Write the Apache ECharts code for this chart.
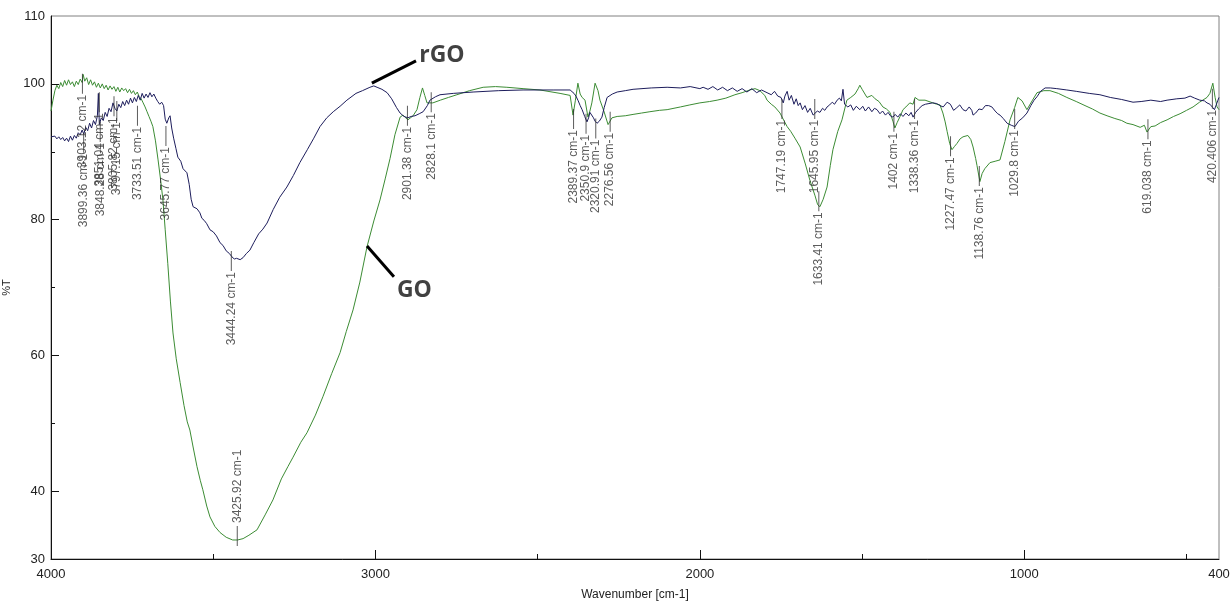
<!DOCTYPE html>
<html><head><meta charset="utf-8">
<script src="https://cdn.jsdelivr.net/npm/echarts@6/dist/echarts.min.js"></script>
<style>html,body{margin:0;padding:0;background:#fff}#c{width:1231px;height:602px}</style>
</head><body><div id="c"></div>
<script>
// ---- data (wavenumber cm-1, %T) ----
const goWn = [4000,3994,3988,3982,3976,3970,3964,3958,3952,3946,3940,3934,3928,3922,3916,3910,3904,3901,3896,3890,3884,3878,3872,3866,3860,3854,3848,3842,3836,3830,3824,3818,3812,3806,3800,3794,3788,3782,3776,3770,3764,3758,3752,3746,3740,3734,3728,3722,3716,3710,3704,3698,3692,3686,3678,3670,3662,3655,3648,3640,3632,3624,3614,3602,3590,3580,3572,3562,3550,3540,3532,3520,3510,3495,3479,3460,3440,3425,3408,3390,3365,3340,3316,3290,3270,3254,3230,3211,3185,3162,3135,3109,3090,3069,3048,3026,3005,2986,2970,2955,2940,2924,2915,2909,2900,2892,2884,2872,2863,2855,2848,2841,2823,2800,2775,2749,2710,2668,2630,2595,2545,2493,2431,2400,2391,2384,2376,2369,2363,2354,2345,2339,2333,2323,2314,2308,2296,2283,2271,2255,2230,2206,2180,2154,2125,2101,2060,2031,2000,1970,1947,1920,1892,1870,1846,1830,1815,1800,1793,1780,1769,1753,1740,1731,1720,1707,1691,1675,1661,1645,1637,1630,1620,1608,1598,1590,1575,1562,1547,1535,1522,1512,1507,1500,1485,1470,1460,1448,1436,1425,1414,1405,1399,1392,1383,1374,1365,1353,1343,1337,1325,1306,1282,1270,1260,1251,1244,1238,1230,1223,1215,1208,1198,1189,1174,1165,1158,1150,1146,1137,1130,1122,1106,1090,1075,1060,1044,1030,1020,1007,992,976,961,940,921,895,869,840,813,790,767,745,721,700,684,665,643,630,622,610,597,580,560,540,520,500,480,460,437,428,419,412,406,400];
const goT = [96.0,97.6,99.0,99.8,99.3,100.2,99.6,100.5,99.8,100.6,99.9,100.3,99.6,100.4,99.9,100.7,100.2,101.4,100.4,100.9,99.9,100.6,99.8,100.3,99.5,100.1,99.4,100.0,99.3,99.8,99.1,99.7,99.2,99.6,98.9,99.5,98.8,99.4,99.0,99.3,98.7,99.2,98.6,99.0,98.4,98.8,98.1,97.8,97.2,96.6,95.9,95.2,94.5,93.7,91.6,88.8,85.8,82.9,78.5,73.5,68.0,63.3,59.5,56.0,52.6,50.2,49.0,46.5,43.6,41.6,40.2,37.8,36.2,34.8,33.9,33.2,32.8,32.8,33.0,33.5,34.3,36.5,38.7,41.8,43.6,45.0,47.2,48.6,51.2,53.9,57.3,60.4,63.5,66.7,70.8,76.0,79.8,82.9,86.0,89.0,92.5,95.1,95.4,95.1,94.7,95.0,95.3,96.2,98.0,99.4,98.3,97.2,97.2,97.6,98.0,98.4,99.0,99.5,99.6,99.5,99.3,99.1,98.6,98.3,95.4,97.5,100.1,98.5,98.0,97.6,95.1,96.0,97.2,100.1,99.0,97.6,96.0,94.0,95.0,95.2,95.3,95.5,95.7,95.9,96.1,96.2,96.6,96.9,97.2,97.4,97.6,97.9,98.4,98.7,99.1,99.3,99.0,98.3,97.6,97.0,96.6,95.7,94.5,93.7,93.0,92.0,90.7,88.2,85.8,83.5,82.2,81.9,83.0,84.8,88.0,90.3,93.0,94.7,97.6,98.0,98.5,99.3,99.8,99.2,98.0,98.3,97.8,97.4,96.6,96.3,95.8,94.5,93.5,94.3,95.2,96.2,96.6,97.2,97.0,98.0,97.6,97.6,97.2,97.0,96.9,95.7,94.4,93.0,91.2,90.3,90.8,91.2,91.9,92.2,92.4,91.8,90.7,89.0,88.0,85.6,86.8,87.5,88.4,88.6,88.8,91.5,94.7,96.5,98.0,97.5,96.2,97.5,98.7,99.0,99.0,98.6,98.0,97.4,96.8,96.3,95.7,95.3,94.9,94.6,94.2,94.0,93.6,93.9,92.9,93.7,93.8,94.3,94.7,95.2,95.6,96.1,96.6,97.3,98.0,98.6,100.1,98.0,96.6,96.2];

const rgoWn = [4000,3994,3988,3982,3976,3970,3964,3958,3952,3946,3940,3934,3928,3922,3916,3910,3904,3899,3893,3887,3881,3875,3869,3863,3857,3854,3851,3845,3839,3833,3827,3821,3815,3809,3803,3797,3791,3785,3779,3773,3767,3761,3755,3749,3743,3737,3731,3725,3719,3713,3707,3701,3695,3689,3683,3677,3671,3665,3659,3653,3648,3643,3637,3633,3628,3622,3615,3609,3600,3593,3587,3581,3574,3568,3562,3556,3550,3541,3535,3528,3520,3510,3500,3490,3479,3470,3460,3450,3442,3435,3428,3417,3408,3398,3387,3375,3360,3347,3334,3315,3295,3273,3253,3233,3210,3190,3171,3150,3130,3109,3088,3060,3040,3017,3005,2995,2980,2964,2950,2935,2924,2912,2900,2890,2878,2865,2853,2840,2832,2815,2801,2760,2699,2620,2545,2450,2400,2394,2388,2382,2375,2369,2363,2355,2348,2343,2339,2333,2328,2323,2317,2310,2302,2295,2286,2270,2255,2230,2206,2150,2101,2060,2030,2000,1990,1975,1960,1945,1930,1915,1900,1885,1870,1855,1840,1825,1810,1793,1780,1770,1760,1750,1743,1738,1731,1725,1718,1710,1703,1697,1691,1684,1676,1668,1660,1651,1645,1638,1630,1622,1615,1608,1600,1592,1585,1577,1570,1564,1559,1554,1544,1535,1527,1518,1507,1498,1490,1480,1470,1462,1454,1445,1437,1428,1420,1413,1405,1398,1390,1382,1374,1365,1356,1349,1343,1335,1326,1315,1305,1294,1282,1270,1260,1250,1238,1228,1218,1208,1199,1189,1180,1170,1162,1158,1150,1140,1130,1120,1110,1100,1090,1082,1075,1065,1053,1040,1029,1018,1005,992,980,970,961,950,936,920,900,869,840,800,767,735,700,665,640,610,580,560,530,505,489,475,459,445,437,428,419,414,409,404,400];
const rgoT = [92.2,92.0,92.3,91.9,92.2,91.8,92.1,91.6,92.0,91.5,92.3,91.7,92.4,92.0,92.8,92.5,93.2,92.6,93.6,93.1,94.2,93.5,94.6,94.0,95.3,98.6,94.0,95.0,94.6,95.8,95.2,96.4,95.9,97.2,96.4,96.0,97.0,96.5,97.4,96.8,97.6,97.0,97.9,97.2,98.0,97.4,98.3,97.6,98.6,97.9,98.5,98.0,98.7,98.1,98.5,97.9,97.4,97.0,97.3,96.8,94.8,94.2,95.0,95.3,93.5,92.0,90.5,89.2,88.6,87.5,87.3,86.9,85.2,83.0,81.9,81.8,81.6,81.0,80.2,79.9,79.4,78.5,78.2,77.6,76.6,76.2,75.4,75.0,74.5,74.2,74.3,74.1,74.4,75.0,75.5,76.6,77.9,78.6,79.5,81.5,83.3,84.8,86.5,88.4,90.3,92.0,93.7,95.0,95.9,96.7,97.6,98.6,99.0,99.5,99.7,99.5,99.2,98.7,97.8,96.5,95.7,95.2,95.0,95.2,95.3,95.6,95.9,96.8,97.6,98.1,98.4,98.6,98.8,99.0,99.1,99.1,99.1,99.0,98.6,98.2,97.5,96.8,96.2,95.2,94.4,95.0,95.8,95.7,95.0,94.5,94.2,94.5,95.1,96.5,98.0,98.5,98.8,99.0,99.2,99.4,99.5,99.4,99.6,99.3,99.5,99.2,99.6,99.1,99.5,99.0,99.4,98.9,99.3,98.8,99.3,98.7,99.1,98.7,98.4,98.9,98.2,98.0,97.2,98.2,98.9,97.6,98.3,97.0,97.8,96.8,97.2,96.2,96.8,95.8,96.4,95.4,95.2,96.0,95.8,96.4,96.1,96.6,96.9,97.3,97.0,97.6,97.9,97.5,99.2,97.0,96.6,96.9,96.1,96.7,96.2,96.7,96.0,96.6,95.9,96.4,96.2,95.6,96.0,95.4,95.8,95.3,95.1,95.5,95.1,95.6,95.2,95.7,95.3,95.8,95.1,95.8,96.3,96.8,97.0,97.1,97.2,97.1,96.8,96.6,97.3,97.0,96.1,96.5,96.9,96.2,96.0,96.6,96.1,95.4,95.7,96.3,96.2,96.8,96.8,96.6,96.0,95.6,95.4,94.9,94.2,93.9,93.7,94.5,95.0,95.7,96.8,97.6,98.1,98.9,99.4,99.4,99.3,99.1,98.9,98.6,98.4,98.0,97.7,97.3,97.4,97.6,97.4,97.6,97.8,97.9,98.2,97.9,97.6,97.5,97.2,97.0,96.5,96.2,96.4,97.5,98.0];

// peak labels drawn below their marker
const peakWn = [3903.12,3899.36,3851.04,3848.28,3805.82,3797.15,3733.51,3645.77,3444.24,2901.38,2828.1,2389.37,2350.9,2320.91,2276.56,1747.19,1645.95,1633.41,1402,1338.36,1227.47,1138.76,1029.8,619.038,420.406];
const peakT  = [100.6,91.9,97.9,93.5,97.3,96.6,95.9,92.9,74.5,95.9,97.9,95.4,94.7,94.0,95.0,96.9,96.9,83.3,95.0,96.9,91.4,87.0,95.4,93.9,98.4];
const peakText = ['3903.12 cm-1','3899.36 cm-1','3851.04 cm-1','3848.28 cm-1','3805.82 cm-1','3797.15 cm-1','3733.51 cm-1','3645.77 cm-1','3444.24 cm-1','2901.38 cm-1','2828.1 cm-1','2389.37 cm-1','2350.9 cm-1','2320.91 cm-1','2276.56 cm-1','1747.19 cm-1','1645.95 cm-1','1633.41 cm-1','1402 cm-1','1338.36 cm-1','1227.47 cm-1','1138.76 cm-1','1029.8 cm-1','619.038 cm-1','420.406 cm-1'];
// peak label drawn above its marker
const upPeakWn = [3425.92];
const upPeakT = [32.8];
const upPeakText = ['3425.92 cm-1'];

// axis ticks / labels
const xLabelVals = [4000,3000,2000,1000,400];
const xMajorTicks = [3000,2000,1000];
const xMinorTicks = [3500,2500,1500,500];
const yLabelVals = [30,40,60,80,100,110];
const yMajorTicks = [40,60,80,100];
const yMinorTicks = [50,70,90];

// curve annotations
const annLineRGO = [[3011,100.1],[2875,103.4]];
const annLineGO = [[3026,76.1],[2943,71.6]];
const annText = [['rGO',2795,104.2],['GO',2880,69.6]];

const zip = (a,b)=>a.map((v,i)=>[v,b[i]]);
const chart = echarts.init(document.getElementById('c'), null, {renderer:'canvas'});
const FONT = 'Liberation Sans, Arial, sans-serif';
const GREEN = '#3c8c34', NAVY = '#1d1d5c';

const baseX = {type:'value', min:400, max:4000, inverse:true, position:'bottom', splitLine:{show:false}};
const baseY = {type:'value', min:30, max:110, position:'left', splitLine:{show:false}};

chart.setOption({
  animation:false,
  backgroundColor:'#fff',
  grid:{left:51, right:12, top:16, bottom:43, show:true, borderColor:'#808080', borderWidth:1, containLabel:false, outerBoundsMode:'none'},
  xAxis:[
    Object.assign({}, baseX, {
      name:'Wavenumber [cm-1]', nameLocation:'middle', nameGap:30,
      nameTextStyle:{fontFamily:'Liberation Sans Narrow, Liberation Sans, Arial', fontSize:12, color:'#222'},
      axisLine:{show:true, onZero:false, lineStyle:{color:'#111', width:1}},
      axisTick:{show:true, inside:true, length:9, customValues:xMajorTicks, lineStyle:{color:'#111'}},
      axisLabel:{show:true, customValues:xLabelVals, margin:9, fontSize:13, color:'#222', fontFamily:FONT,
        formatter:v=>String(v)}
    }),
    Object.assign({}, baseX, {
      axisLine:{show:false, onZero:false},
      axisTick:{show:true, inside:true, length:5, customValues:xMinorTicks, lineStyle:{color:'#111'}},
      axisLabel:{show:false}
    })
  ],
  yAxis:[
    Object.assign({}, baseY, {
      name:'%T', nameLocation:'middle', nameGap:31, nameRotate:90,
      nameTextStyle:{fontFamily:FONT, fontSize:11, color:'#222'},
      axisLine:{show:true, onZero:false, lineStyle:{color:'#111', width:1}},
      axisTick:{show:true, inside:true, length:8, customValues:yMajorTicks, lineStyle:{color:'#111'}},
      axisLabel:{show:true, customValues:yLabelVals, margin:6, fontSize:13, color:'#222', fontFamily:FONT,
        formatter:v=>String(v)}
    }),
    Object.assign({}, baseY, {
      axisLine:{show:false, onZero:false},
      axisTick:{show:true, inside:true, length:4, customValues:yMinorTicks, lineStyle:{color:'#111'}},
      axisLabel:{show:false}
    })
  ],
  series:[
    {name:'GO', type:'line', data:zip(goWn,goT), symbol:'none', lineStyle:{color:GREEN, width:1}, z:3},
    {name:'rGO', type:'line', data:zip(rgoWn,rgoT), symbol:'none', lineStyle:{color:NAVY, width:1}, z:4},
    {name:'peaks', type:'scatter', z:5,
      data:peakWn.map((w,i)=>({value:[w,peakT[i]], name:peakText[i]})),
      symbol:'rect', symbolSize:[1,20], symbolOffset:[0,4], itemStyle:{color:'#333'},
      label:{show:true, position:'bottom', distance:1, rotate:90, align:'right', verticalAlign:'middle',
        formatter:p=>p.name, fontSize:12, color:'#333', fontFamily:FONT}
    },
    {name:'peaksUp', type:'scatter', z:5,
      data:upPeakWn.map((w,i)=>({value:[w,upPeakT[i]], name:upPeakText[i]})),
      symbol:'rect', symbolSize:[1,20], symbolOffset:[0,-4], itemStyle:{color:'#333'},
      label:{show:true, position:'top', distance:1, rotate:90, align:'left', verticalAlign:'middle',
        formatter:p=>p.name, fontSize:12, color:'#333', fontFamily:FONT, offset:[2,0]}
    },
    {name:'annRGO', type:'line', data:annLineRGO, symbol:'none', lineStyle:{color:'#000', width:3}, z:6},
    {name:'annGO', type:'line', data:annLineGO, symbol:'none', lineStyle:{color:'#000', width:3}, z:6},
    {name:'annText', type:'scatter', z:6, symbolSize:0,
      data:annText.map(a=>({value:[a[1],a[2]], name:a[0]})),
      label:{show:true, position:'inside', formatter:p=>p.name, fontSize:23, fontWeight:'bold', color:'#111', fontFamily:'Open Sans, Liberation Sans, sans-serif'}
    }
  ]
});
</script></body></html>
